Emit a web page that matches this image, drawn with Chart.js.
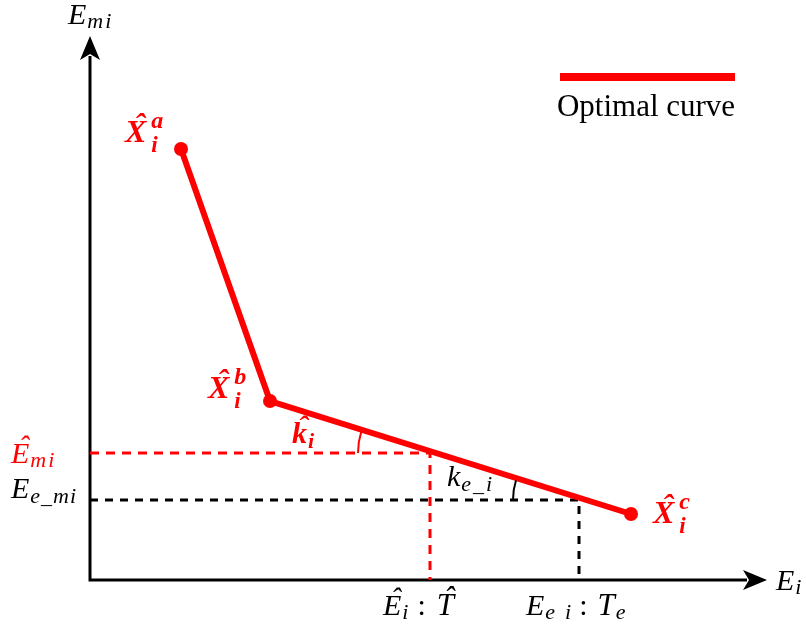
<!DOCTYPE html>
<html>
<head>
<meta charset="utf-8">
<script src="https://cdn.jsdelivr.net/npm/chart.js@4/dist/chart.umd.min.js"></script>
<style>
  html, body { margin: 0; padding: 0; background: #fff; }
  #wrap { width: 806px; height: 632px; }
</style>
</head>
<body>
<div id="wrap"><canvas id="c" width="806" height="632"></canvas></div>
<script>
// Vertices of the optimal curve: X̂a, X̂b, X̂c  (E_i, E_mi)
const curveE  = [91, 180, 541];
const curveEm = [431, 179, 66];
const curveNames = ['a', 'b', 'c'];
// Operating points: optimal (hat) and actual (e)
const markE  = [340, 489];
const markEm = [127, 80];
// Axis extents (arrow tips)
const axisMaxE  = 677;
const axisMaxEm = 544;
const legendLabel = 'Optimal curve';

const RED = '#ff0000';
const BLACK = '#000000';
const SERIF = '"Liberation Serif", "Times New Roman", serif';

const pts = (xs, ys) => xs.map((v, i) => ({ x: v, y: ys[i] }));

// Draws a run of math-style text pieces (italic, sub/superscripts, hats)
function put(ctx, x, y, color, runs) {
  ctx.save();
  ctx.fillStyle = color;
  ctx.textBaseline = 'alphabetic';
  ctx.textAlign = 'left';
  let cx = x;
  runs.forEach(r => {
    ctx.font = (r.it === false ? '' : 'italic ') + (r.b ? 'bold ' : '') + r.s + 'px ' + SERIF;
    ctx.letterSpacing = (r.ls || 0) + 'px';
    const w = ctx.measureText(r.t).width;
    const tx = cx + (r.dx || 0), ty = y + (r.dy || 0);
    ctx.fillText(r.t, tx, ty);
    ctx.letterSpacing = '0px';
    if (r.hat) {
      ctx.textAlign = 'center';
      ctx.fillText('\u02C6', tx + w / 2 + r.s * (r.hatX || 0.12), ty - r.s * (r.hatUp || 0.22));
      ctx.textAlign = 'left';
    }
    if (!r.stay) cx = tx + w + (r.gap || 0);
  });
  ctx.restore();
}

function arrowHead(ctx, tx, ty, dx, dy) {
  const L = 24, H = 10, N = 18;
  const px = -dy, py = dx;
  ctx.beginPath();
  ctx.moveTo(tx, ty);
  ctx.lineTo(tx - dx * L + px * H, ty - dy * L + py * H);
  ctx.lineTo(tx - dx * N, ty - dy * N);
  ctx.lineTo(tx - dx * L - px * H, ty - dy * L - py * H);
  ctx.closePath();
  ctx.fill();
}

const annotations = {
  id: 'annotations',
  afterDatasetsDraw(chart) {
    const { ctx, scales: { x, y } } = chart;
    const X = v => x.getPixelForValue(v), Y = v => y.getPixelForValue(v);
    ctx.save();

    // axis arrowheads
    ctx.fillStyle = BLACK;
    arrowHead(ctx, X(0), Y(axisMaxEm), 0, -1);
    arrowHead(ctx, X(axisMaxE), Y(0), 1, 0);

    // angle arcs between the reference levels and the curve's second segment
    const segAng = Math.atan2(Y(curveEm[1]) - Y(curveEm[2]), X(curveE[1]) - X(curveE[2]));
    ctx.lineWidth = 2;
    ctx.strokeStyle = RED;
    ctx.beginPath();
    ctx.arc(X(markE[0]), Y(markEm[0]), 72, -Math.PI, segAng);
    ctx.stroke();
    ctx.strokeStyle = BLACK;
    ctx.beginPath();
    ctx.arc(X(markE[1]), Y(markEm[1]), 66, -Math.PI, segAng);
    ctx.stroke();

    // axis titles
    put(ctx, X(0) - 22, Y(axisMaxEm) - 12, BLACK, [
      { t: 'E', s: 30, gap: 1 }, { t: 'mi', s: 22, dy: 4, ls: 2 }]);
    put(ctx, X(axisMaxE) + 9, Y(0) + 10, BLACK, [
      { t: 'E', s: 30, gap: 1 }, { t: 'i', s: 22, dy: 4 }]);

    // level labels on the E_mi axis
    put(ctx, 11, Y(markEm[0]) + 10, RED, [
      { t: 'E', s: 30, hat: true, gap: 1 }, { t: 'mi', s: 22, dy: 4, ls: 2 }]);
    put(ctx, 11, Y(markEm[1]) - 2, BLACK, [
      { t: 'E', s: 30, gap: 1 }, { t: 'e_mi', s: 22, dy: 5, ls: 1 }]);

    // labels on the E_i axis
    put(ctx, X(markE[0]) - 47, Y(0) + 35, BLACK, [
      { t: 'E', s: 30, hat: true, gap: 1 }, { t: 'i', s: 22, dy: 4, gap: 9 },
      { t: ':', s: 30, it: false, gap: 11 }, { t: 'T', s: 31, hat: true }]);
    put(ctx, X(markE[1]) - 53, Y(0) + 35, BLACK, [
      { t: 'E', s: 30, gap: 1 }, { t: 'e', s: 22, dy: 4, gap: 10 }, { t: 'i', s: 22, dy: 4, gap: 8 },
      { t: ':', s: 30, it: false, gap: 10 }, { t: 'T', s: 31, gap: 1 }, { t: 'e', s: 22, dy: 4 }]);

    // slope labels
    put(ctx, X(markE[0]) - 138, Y(markEm[0]) - 10, RED, [
      { t: 'k', s: 30, b: true, hat: true, hatUp: 0.22, gap: 1 }, { t: 'i', s: 22, b: true, dy: 5 }]);
    put(ctx, X(markE[1]) - 132, Y(markEm[1]) - 14, BLACK, [
      { t: 'k', s: 30, gap: 1 }, { t: 'e_i', s: 22, dy: 5, ls: 2 }]);

    // vertex labels X̂_i^a, X̂_i^b, X̂_i^c
    const offs = [[-56, -7], [-62, -3], [22, 9]];
    curveNames.forEach((n, i) => {
      put(ctx, X(curveE[i]) + offs[i][0], Y(curveEm[i]) + offs[i][1], RED, [
        { t: 'X', s: 32, b: true, hat: true, gap: 5 },
        { t: n, s: 24, b: true, dy: -14, stay: true },
        { t: 'i', s: 23, b: true, dy: 10 }]);
    });

    // legend
    ctx.strokeStyle = RED;
    ctx.lineWidth = 8;
    ctx.beginPath();
    ctx.moveTo(560, 77);
    ctx.lineTo(735, 77);
    ctx.stroke();
    ctx.fillStyle = BLACK;
    ctx.font = '31px ' + SERIF;
    ctx.textAlign = 'center';
    ctx.textBaseline = 'alphabetic';
    ctx.fillText(legendLabel, 646, 116);

    ctx.restore();
  }
};

new Chart(document.getElementById('c'), {
  type: 'scatter',
  data: {
    datasets: [
      {
        label: legendLabel,
        data: pts(curveE, curveEm),
        showLine: true,
        borderColor: RED,
        borderWidth: 6,
        pointRadius: 7,
        pointBackgroundColor: RED,
        pointBorderWidth: 0,
        pointStyle: 'circle'
      },
      {
        data: [{ x: 0, y: markEm[0] }, { x: markE[0], y: markEm[0] }, { x: markE[0], y: 0 }],
        showLine: true,
        borderColor: RED,
        borderWidth: 3,
        borderDash: [9, 7],
        pointRadius: 0
      },
      {
        data: [{ x: 0, y: markEm[1] }, { x: markE[1], y: markEm[1] }, { x: markE[1], y: 0 }],
        showLine: true,
        borderColor: BLACK,
        borderWidth: 3,
        borderDash: [8, 7],
        pointRadius: 0
      },
      {
        data: [{ x: 0, y: axisMaxEm - 20 }, { x: 0, y: 0 }, { x: axisMaxE - 20, y: 0 }],
        showLine: true,
        borderColor: BLACK,
        borderWidth: 3,
        borderJoinStyle: 'miter',
        pointRadius: 0
      }
    ]
  },
  options: {
    responsive: false,
    animation: false,
    events: [],
    layout: { padding: 0, autoPadding: false },
    plugins: { legend: { display: false }, tooltip: { enabled: false } },
    scales: {
      x: { type: 'linear', min: -90, max: 716, display: false },
      y: { type: 'linear', min: -52, max: 580, display: false }
    }
  },
  plugins: [annotations]
});
</script>
</body>
</html>
